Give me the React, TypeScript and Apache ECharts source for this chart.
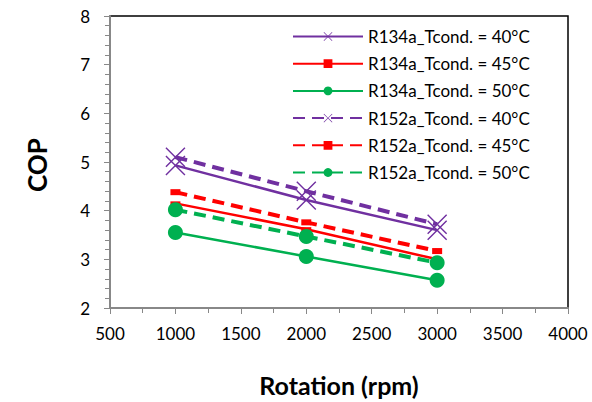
import React, { useEffect, useRef } from "react";
import * as echarts from "echarts";

const rpm = [1000, 2000, 3000];
const r134a40 = [4.93, 4.22, 3.6];
const r134a45 = [4.15, 3.62, 3.0];
const r134a50 = [3.55, 3.06, 2.57];
const r152a40 = [5.1, 4.4, 3.72];
const r152a45 = [4.38, 3.76, 3.17];
const r152a50 = [4.02, 3.47, 2.93];
const seriesNames = [
  "R134a_Tcond. = 40°C",
  "R134a_Tcond. = 45°C",
  "R134a_Tcond. = 50°C",
  "R152a_Tcond. = 40°C",
  "R152a_Tcond. = 45°C",
  "R152a_Tcond. = 50°C",
];

const PURPLE = "#7030A0";
const RED = "#FF0000";
const GREEN = "#00B050";
const XSYM =
  "path://M0,1 L1,0 L10,9 L19,0 L20,1 L11,10 L20,19 L19,20 L10,11 L1,20 L0,19 L9,10 Z";
const FONT = "Lato";

export default function App() {
  const ref = useRef<HTMLDivElement>(null);
  useEffect(() => {
    const chart = echarts.init(ref.current!, null, { renderer: "svg" });
    const pair = (vals: number[]) => vals.map((v, i) => [rpm[i], v]);
    const mk = (
      name: string,
      vals: number[],
      color: string,
      dashed: boolean,
      symbol: string,
      size: any
    ) => ({
      name,
      type: "line",
      data: pair(vals),
      symbol,
      symbolSize: size,
      showSymbol: true,
      lineStyle: {
        color,
        width: dashed ? 4 : 2.5,
        type: dashed ? [12, 7] : "solid",
      },
      itemStyle: { color, borderWidth: 0 },
      emphasis: { disabled: true },
    });
    chart.setOption({
      animation: false,
      textStyle: { fontFamily: FONT },
      grid: {
        left: 110,
        right: 24,
        top: 16,
        bottom: 94,
        show: true,
        borderColor: "#000",
        borderWidth: 1.5,
        outerBoundsMode: "none",
        containLabel: false,
      },
      legend: {
        left: 292,
        top: 28,
        padding: 0,
        orient: "vertical",
        itemWidth: 70,
        itemHeight: 11,
        itemGap: 10.2,
        textStyle: { fontFamily: FONT, fontSize: 17, color: "#000" },
        data: seriesNames,
      },
      xAxis: {
        type: "value",
        min: 500,
        max: 4000,
        interval: 500,
        name: "Rotation (rpm)",
        nameLocation: "middle",
        nameGap: 64,
        nameTextStyle: { fontFamily: FONT, fontSize: 25, fontWeight: "bold", color: "#000" },
        axisLine: { show: true, lineStyle: { color: "#888", width: 2 } },
        axisTick: { show: true, length: 6, lineStyle: { color: "#888" } },
        minorTick: { show: true, splitNumber: 2, length: 5, lineStyle: { color: "#888" } },
        axisLabel: {
          fontFamily: FONT,
          fontSize: 17,
          color: "#000",
          margin: 17,
          formatter: (v: number) => String(v),
        },
        splitLine: { show: false },
      },
      yAxis: {
        type: "value",
        min: 2,
        max: 8,
        interval: 1,
        name: "COP",
        nameLocation: "middle",
        nameGap: 60,
        nameTextStyle: {
          fontFamily: FONT,
          fontSize: 26,
          fontWeight: "bold",
          color: "#000",
          padding: [0, 6, 0, 0],
        },
        axisLine: { show: true, lineStyle: { color: "#888", width: 2 } },
        axisTick: { show: true, length: 6, lineStyle: { color: "#888" } },
        minorTick: { show: true, splitNumber: 5, length: 5, lineStyle: { color: "#888" } },
        axisLabel: { fontFamily: FONT, fontSize: 17, color: "#000", margin: 20 },
        splitLine: { show: false },
      },
      series: [
        mk(seriesNames[0], r134a40, PURPLE, false, XSYM, 20),
        mk(seriesNames[1], r134a45, RED, false, "rect", [10, 4]),
        mk(seriesNames[2], r134a50, GREEN, false, "circle", 15),
        mk(seriesNames[3], r152a40, PURPLE, true, XSYM, 20),
        mk(seriesNames[4], r152a45, RED, true, "rect", [10, 6]),
        mk(seriesNames[5], r152a50, GREEN, true, "circle", 15),
      ],
    });
    return () => chart.dispose();
  }, []);
  return (
    <div
      ref={ref}
      style={{ position: "absolute", left: 0, top: 0, width: 592, height: 402 }}
    />
  );
}
